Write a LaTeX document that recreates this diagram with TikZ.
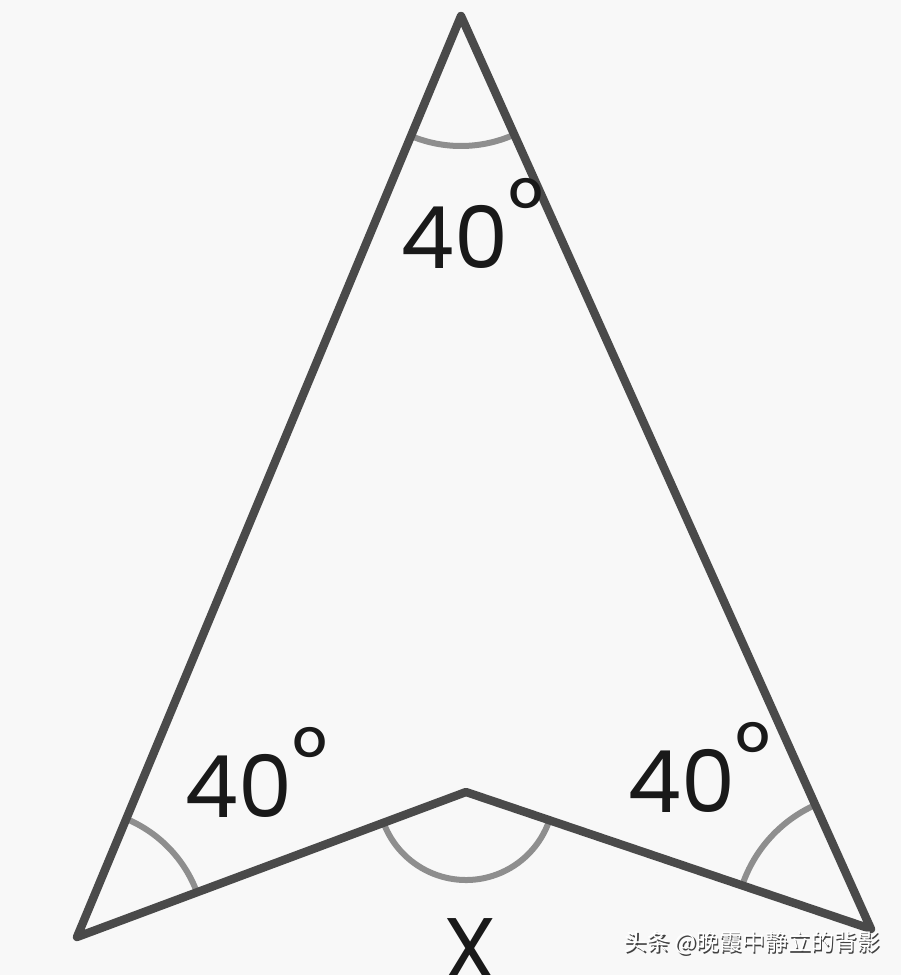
\documentclass[tikz,border=0pt]{standalone}
\usepackage{fontspec}
\setmainfont{Poppins}
\newfontfamily\cjk{Noto Sans CJK SC}
\usepackage{tikz}
\usetikzlibrary{angles,calc}

\definecolor{edgegray}{HTML}{4A4A4A}
\definecolor{arcgray}{HTML}{8E8E8E}
\definecolor{paper}{HTML}{F8F8F8}

\newcommand{\degsign}{\raisebox{0.34em}{°}}

\tikzset{
  side/.style={draw=edgegray,line width=4.2pt,line join=round,line cap=round},
  mark arc/.style={draw=arcgray,line width=3pt},
  deg/.style={font=\fontsize{43}{43}\selectfont,text=black!90,inner sep=0pt,anchor=base west},
  wm/.style={font=\cjk\fontsize{11.5}{11.5}\selectfont}
}

\begin{document}
\begin{tikzpicture}[x=0.5pt,y=-0.5pt]
% page
\fill[paper] (0,0) rectangle (901,975);
\useasboundingbox (0,0) rectangle (901,975);

% corners of the arrowhead
\coordinate (A) at (461,16);
\coordinate (B) at (77,937);
\coordinate (M) at (466,792);
\coordinate (C) at (871,929);

% angle marks
\pic[mark arc,angle radius=65pt] {angle=B--A--C};
\pic[mark arc,angle radius=64pt] {angle=M--B--A};
\pic[mark arc,angle radius=68pt] {angle=A--C--M};
\pic[mark arc,angle radius=44pt] {angle=B--M--C};

% outline
\draw[side] (A) -- (C) -- (M) -- (B) -- cycle;

% labels
\node[deg] (top) at (400,268) {40\degsign};
\node[deg] (left) at (184,817) {40\degsign};
\node[deg] (right) at (627,812) {40\degsign};
\node[deg,anchor=north] (x) at (470,918) {X};

% watermark
\node[wm,text=black!75] (wms) at (753.5,944.5) {头条 @晚霞中静立的背影};
\node[wm,text=white] (wmk) at (752,943) {头条 @晚霞中静立的背影};
\end{tikzpicture}
\end{document}
